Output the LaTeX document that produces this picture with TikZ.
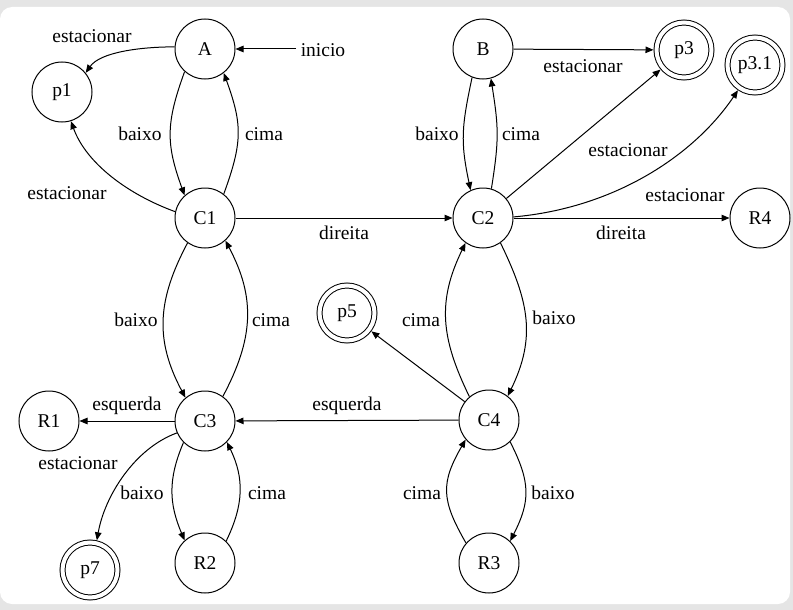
\documentclass[tikz,border=0pt]{standalone}
\usepackage{fontspec}
\setmainfont{Liberation Serif}
\usetikzlibrary{arrows.meta}
\begin{document}
\begin{tikzpicture}[x=1pt,y=1pt,
  >={Triangle[length=8pt,width=6.5pt]},
  lbl/.style={font=\fontsize{19.5}{23}\selectfont, inner sep=0pt},
  state/.style={circle, draw, line width=1pt, minimum size=60pt, inner sep=0pt, font=\fontsize{19.5}{23}\selectfont},
  accept/.style={circle, draw, double, double distance=4pt, line width=1pt, minimum size=55pt, inner sep=0pt, outer sep=3pt, font=\fontsize{19.5}{23}\selectfont},
  conn/.style={->, line width=1pt}]
\useasboundingbox (0,0) rectangle (793,-610);
\fill[gray!20] (0,0) rectangle (793,-610);
\fill[white, rounded corners=12pt] (0,-7) rectangle (790,-604);

\node[state] (A) at (205,-49) {A};
\node[state] (p1) at (62,-92) {p1};
\node[state] (B) at (483,-49) {B};
\node[accept] (p3) at (684,-50) {p3};
\node[accept] (p31) at (755,-65) {p3.1};
\node[state] (C1) at (205,-218) {C1};
\node[state] (C2) at (483,-218) {C2};
\node[state] (R4) at (760,-218) {R4};
\node[accept] (p5) at (347,-313) {p5};
\node[state] (C3) at (205,-421) {C3};
\node[state] (R1) at (49,-421) {R1};
\node[state] (C4) at (489,-420) {C4};
\node[accept] (p7) at (90,-570) {p7};
\node[state] (R2) at (205,-563) {R2};
\node[state] (R3) at (489,-563) {R3};

\coordinate (start) at (296,-49);
\draw[conn] (start) -- (A);
\node[lbl] (linicio) at (323,-50) {inicio};

\draw[conn] (A.176) .. controls +(180:35) and +(55:25) .. (p1.39);
\draw[conn] (A.228) .. controls +(250:55) and +(110:55) .. (C1.132);
\draw[conn] (C1.52) .. controls +(70:55) and +(290:55) .. (A.308);
\draw[conn] (C1.168) .. controls +(160:50) and +(290:45) .. (p1.287);
\draw[conn] (C1) -- (C2);
\draw[conn] (B) -- (p3);
\draw[conn] (B.249) .. controls +(258:50) and +(102:50) .. (C2.114);
\draw[conn] (C2.74) .. controls +(81:50) and +(279:50) .. (B.285);
\draw[conn] (C2) -- (p3);
\draw[conn] (C2.2) .. controls +(5:100) and +(236:80) .. (p31.236);
\draw[conn] (C2) -- (R4);
\draw[conn] (C1.235) .. controls +(242:65) and +(118:65) .. (C3.130);
\draw[conn] (C3.54) .. controls +(62:65) and +(298:65) .. (C1.312);
\draw[conn] (C2.305) .. controls +(296:65) and +(64:65) .. (C4.52);
\draw[conn] (C4.130) .. controls +(116:65) and +(244:65) .. (C2.235);
\draw[conn] (C4) -- (p5);
\draw[conn] (C4) -- (C3);
\draw[conn] (C3) -- (R1);
\draw[conn] (C3.203) .. controls +(200:45) and +(80:45) .. (p7.77);
\draw[conn] (C3.225) .. controls +(247:40) and +(113:40) .. (R2.132);
\draw[conn] (R2.46) .. controls +(64:40) and +(296:40) .. (C3.316);
\draw[conn] (C4.314) .. controls +(297:45) and +(63:45) .. (R3.46);
\draw[conn] (R3.139) .. controls +(120:50) and +(240:50) .. (C4.220);

\node[lbl] (l1) at (92,-36) {estacionar};
\node[lbl] (l2) at (140,-134) {baixo};
\node[lbl] (l3) at (264,-134) {cima};
\node[lbl] (l4) at (67,-193) {estacionar};
\node[lbl] (l5) at (344,-233) {direita};
\node[lbl] (l6) at (583,-66) {estacionar};
\node[lbl] (l7) at (437,-134) {baixo};
\node[lbl] (l8) at (521,-134) {cima};
\node[lbl] (l9) at (628,-150) {estacionar};
\node[lbl] (l10) at (685,-195) {estacionar};
\node[lbl] (l11) at (621,-233) {direita};
\node[lbl] (l12) at (136,-320) {baixo};
\node[lbl] (l13) at (271,-320) {cima};
\node[lbl] (l14) at (127,-406) {esquerda};
\node[lbl] (l15) at (347,-406) {esquerda};
\node[lbl] (l16) at (78,-463) {estacionar};
\node[lbl] (l17) at (142,-493) {baixo};
\node[lbl] (l18) at (267,-493) {cima};
\node[lbl] (l19) at (421,-320) {cima};
\node[lbl] (l20) at (554,-318) {baixo};
\node[lbl] (l21) at (422,-493) {cima};
\node[lbl] (l22) at (553,-493) {baixo};
\end{tikzpicture}
\end{document}
